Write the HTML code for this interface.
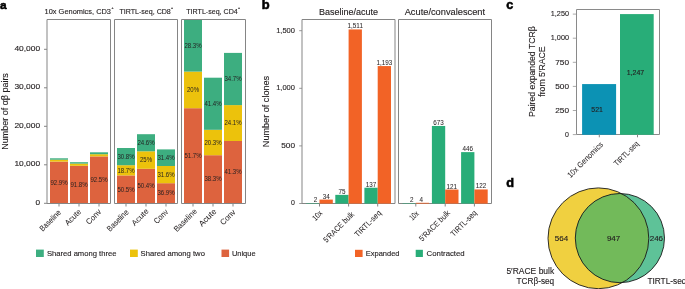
<!DOCTYPE html>
<html><head><meta charset="utf-8"><style>
html,body{margin:0;padding:0;background:#fff;}
svg{display:block;font-family:"Liberation Sans", sans-serif;will-change:transform;}
text{stroke:#231f20;stroke-width:0.13px;}
.rl{stroke-width:0.04px;}
.sm{stroke-width:0px;}
.lb{stroke:#000;stroke-width:0.55px;}
</style></head><body>
<svg width="685" height="289" viewBox="0 0 685 289">
<text x="0.1" y="9.2" font-size="11.8" textLength="6.6" lengthAdjust="spacingAndGlyphs" font-weight="bold" fill="#000" class="lb">a</text>
<text x="44.6" y="14.0" font-size="7.4" textLength="66.4" lengthAdjust="spacingAndGlyphs" fill="#231f20">10x Genomics, CD3</text>
<text x="111.5" y="9.4" font-size="3.5" fill="#231f20">+</text>
<text x="119.4" y="14.0" font-size="7.4" textLength="51.4" lengthAdjust="spacingAndGlyphs" fill="#231f20">TIRTL-seq, CD8</text>
<text x="171.0" y="9.4" font-size="3.5" fill="#231f20">+</text>
<text x="186.3" y="14.0" font-size="7.4" textLength="51.4" lengthAdjust="spacingAndGlyphs" fill="#231f20">TIRTL-seq, CD4</text>
<text x="238.1" y="9.4" font-size="3.5" fill="#231f20">+</text>
<line x1="44" y1="203.3" x2="47" y2="203.3" stroke="#858585" stroke-width="1"/>
<text x="40.1" y="204.7" font-size="7.5" text-anchor="end" textLength="4.6" lengthAdjust="spacingAndGlyphs" fill="#231f20">0</text>
<line x1="44" y1="164.8" x2="47" y2="164.8" stroke="#858585" stroke-width="1"/>
<text x="40.1" y="166.2" font-size="7.5" text-anchor="end" textLength="25.7" lengthAdjust="spacingAndGlyphs" fill="#231f20">10,000</text>
<line x1="44" y1="126.30000000000001" x2="47" y2="126.30000000000001" stroke="#858585" stroke-width="1"/>
<text x="40.1" y="127.7" font-size="7.5" text-anchor="end" textLength="25.7" lengthAdjust="spacingAndGlyphs" fill="#231f20">20,000</text>
<line x1="44" y1="87.80000000000001" x2="47" y2="87.80000000000001" stroke="#858585" stroke-width="1"/>
<text x="40.1" y="89.2" font-size="7.5" text-anchor="end" textLength="25.7" lengthAdjust="spacingAndGlyphs" fill="#231f20">30,000</text>
<line x1="44" y1="49.30000000000001" x2="47" y2="49.30000000000001" stroke="#858585" stroke-width="1"/>
<text x="40.1" y="50.7" font-size="7.5" text-anchor="end" textLength="25.7" lengthAdjust="spacingAndGlyphs" fill="#231f20">40,000</text>
<text transform="translate(7.6,111.4) rotate(-90)" font-size="9.2" text-anchor="middle" textLength="76.5" lengthAdjust="spacingAndGlyphs" fill="#231f20">Number of αβ pairs</text>
<rect x="50" y="161.6" width="18" height="41.400000000000006" fill="#dd633e"/>
<rect x="50" y="159.7" width="18" height="1.9000000000000057" fill="#ecc20c"/>
<rect x="50" y="158.3" width="18" height="1.3999999999999773" fill="#3dae80"/>
<rect x="70" y="165.8" width="18" height="37.19999999999999" fill="#dd633e"/>
<rect x="70" y="163.6" width="18" height="2.200000000000017" fill="#ecc20c"/>
<rect x="70" y="162.2" width="18" height="1.4000000000000057" fill="#3dae80"/>
<rect x="90" y="156.4" width="18" height="46.599999999999994" fill="#dd633e"/>
<rect x="90" y="154.2" width="18" height="2.200000000000017" fill="#ecc20c"/>
<rect x="90" y="152.3" width="18" height="1.8999999999999773" fill="#3dae80"/>
<rect x="117" y="175.4" width="18" height="27.599999999999994" fill="#dd633e"/>
<rect x="117" y="165.2" width="18" height="10.200000000000017" fill="#ecc20c"/>
<rect x="117" y="148.0" width="18" height="17.19999999999999" fill="#3dae80"/>
<rect x="137" y="168.8" width="18" height="34.19999999999999" fill="#dd633e"/>
<rect x="137" y="151.3" width="18" height="17.5" fill="#ecc20c"/>
<rect x="137" y="134.2" width="18" height="17.100000000000023" fill="#3dae80"/>
<rect x="157" y="183.2" width="18" height="19.80000000000001" fill="#dd633e"/>
<rect x="157" y="166.0" width="18" height="17.19999999999999" fill="#ecc20c"/>
<rect x="157" y="149.4" width="18" height="16.599999999999994" fill="#3dae80"/>
<rect x="184" y="108.2" width="18" height="94.8" fill="#dd633e"/>
<rect x="184" y="71.6" width="18" height="36.60000000000001" fill="#ecc20c"/>
<rect x="184" y="19.5" width="18" height="52.099999999999994" fill="#3dae80"/>
<rect x="204" y="155.2" width="18" height="47.80000000000001" fill="#dd633e"/>
<rect x="204" y="129.8" width="18" height="25.399999999999977" fill="#ecc20c"/>
<rect x="204" y="77.7" width="18" height="52.10000000000001" fill="#3dae80"/>
<rect x="224" y="141.0" width="18" height="62.0" fill="#dd633e"/>
<rect x="224" y="105.1" width="18" height="35.900000000000006" fill="#ecc20c"/>
<rect x="224" y="52.9" width="18" height="52.199999999999996" fill="#3dae80"/>
<path d="M47,203.5 V19.5 H110.5 V203.5 H47" fill="none" stroke="#858585" stroke-width="1"/>
<path d="M114.5,203.5 V19.5 H177.5 V203.5 H114.5" fill="none" stroke="#858585" stroke-width="1"/>
<path d="M181.5,203.5 V19.5 H245.5 V203.5 H181.5" fill="none" stroke="#858585" stroke-width="1"/>
<text x="59" y="184.7" font-size="6.5" text-anchor="middle" textLength="17.2" lengthAdjust="spacingAndGlyphs" fill="#231f20" class="sm">92.9%</text>
<text x="79" y="186.5" font-size="6.5" text-anchor="middle" textLength="17.2" lengthAdjust="spacingAndGlyphs" fill="#231f20" class="sm">91.8%</text>
<text x="99" y="181.9" font-size="6.5" text-anchor="middle" textLength="17.2" lengthAdjust="spacingAndGlyphs" fill="#231f20" class="sm">92.5%</text>
<text x="126" y="158.9" font-size="6.5" text-anchor="middle" textLength="17.2" lengthAdjust="spacingAndGlyphs" fill="#231f20" class="sm">30.8%</text>
<text x="126" y="172.6" font-size="6.5" text-anchor="middle" textLength="17.2" lengthAdjust="spacingAndGlyphs" fill="#231f20" class="sm">18.7%</text>
<text x="126" y="191.5" font-size="6.5" text-anchor="middle" textLength="17.2" lengthAdjust="spacingAndGlyphs" fill="#231f20" class="sm">50.5%</text>
<text x="146" y="145.0" font-size="6.5" text-anchor="middle" textLength="17.2" lengthAdjust="spacingAndGlyphs" fill="#231f20" class="sm">24.6%</text>
<text x="146" y="162.3" font-size="6.5" text-anchor="middle" textLength="12" lengthAdjust="spacingAndGlyphs" fill="#231f20" class="sm">25%</text>
<text x="146" y="188.2" font-size="6.5" text-anchor="middle" textLength="17.2" lengthAdjust="spacingAndGlyphs" fill="#231f20" class="sm">50.4%</text>
<text x="166" y="160.0" font-size="6.5" text-anchor="middle" textLength="17.2" lengthAdjust="spacingAndGlyphs" fill="#231f20" class="sm">31.4%</text>
<text x="166" y="176.9" font-size="6.5" text-anchor="middle" textLength="17.2" lengthAdjust="spacingAndGlyphs" fill="#231f20" class="sm">31.6%</text>
<text x="166" y="195.4" font-size="6.5" text-anchor="middle" textLength="17.2" lengthAdjust="spacingAndGlyphs" fill="#231f20" class="sm">36.9%</text>
<text x="193" y="47.9" font-size="6.5" text-anchor="middle" textLength="17.2" lengthAdjust="spacingAndGlyphs" fill="#231f20" class="sm">28.3%</text>
<text x="193" y="92.2" font-size="6.5" text-anchor="middle" textLength="12" lengthAdjust="spacingAndGlyphs" fill="#231f20" class="sm">20%</text>
<text x="193" y="157.7" font-size="6.5" text-anchor="middle" textLength="17.2" lengthAdjust="spacingAndGlyphs" fill="#231f20" class="sm">51.7%</text>
<text x="213" y="106.0" font-size="6.5" text-anchor="middle" textLength="17.2" lengthAdjust="spacingAndGlyphs" fill="#231f20" class="sm">41.4%</text>
<text x="213" y="144.8" font-size="6.5" text-anchor="middle" textLength="17.2" lengthAdjust="spacingAndGlyphs" fill="#231f20" class="sm">20.3%</text>
<text x="213" y="181.3" font-size="6.5" text-anchor="middle" textLength="17.2" lengthAdjust="spacingAndGlyphs" fill="#231f20" class="sm">38.3%</text>
<text x="233" y="81.3" font-size="6.5" text-anchor="middle" textLength="17.2" lengthAdjust="spacingAndGlyphs" fill="#231f20" class="sm">34.7%</text>
<text x="233" y="125.3" font-size="6.5" text-anchor="middle" textLength="17.2" lengthAdjust="spacingAndGlyphs" fill="#231f20" class="sm">24.1%</text>
<text x="233" y="174.2" font-size="6.5" text-anchor="middle" textLength="17.2" lengthAdjust="spacingAndGlyphs" fill="#231f20" class="sm">41.3%</text>
<line x1="59" y1="203.5" x2="59" y2="206.5" stroke="#858585" stroke-width="1"/>
<line x1="79" y1="203.5" x2="79" y2="206.5" stroke="#858585" stroke-width="1"/>
<line x1="99" y1="203.5" x2="99" y2="206.5" stroke="#858585" stroke-width="1"/>
<line x1="126" y1="203.5" x2="126" y2="206.5" stroke="#858585" stroke-width="1"/>
<line x1="146" y1="203.5" x2="146" y2="206.5" stroke="#858585" stroke-width="1"/>
<line x1="166" y1="203.5" x2="166" y2="206.5" stroke="#858585" stroke-width="1"/>
<line x1="193" y1="203.5" x2="193" y2="206.5" stroke="#858585" stroke-width="1"/>
<line x1="213" y1="203.5" x2="213" y2="206.5" stroke="#858585" stroke-width="1"/>
<line x1="233" y1="203.5" x2="233" y2="206.5" stroke="#858585" stroke-width="1"/>
<text id="r_a0" class="rl" transform="translate(61.5,213.14) rotate(-45)" font-size="8.0" text-anchor="end" textLength="26.39" lengthAdjust="spacingAndGlyphs" fill="#231f20">Baseline</text>
<text id="r_a1" class="rl" transform="translate(81.66,212.34) rotate(-45)" font-size="8.0" text-anchor="end" textLength="19.47" lengthAdjust="spacingAndGlyphs" fill="#231f20">Acute</text>
<text id="r_a2" class="rl" transform="translate(101.82,212.34) rotate(-45)" font-size="8.0" text-anchor="end" textLength="18.09" lengthAdjust="spacingAndGlyphs" fill="#231f20">Conv</text>
<text id="r_a3" class="rl" transform="translate(129.14,212.82) rotate(-45)" font-size="8.0" text-anchor="end" textLength="26.96" lengthAdjust="spacingAndGlyphs" fill="#231f20">Baseline</text>
<text id="r_a4" class="rl" transform="translate(149.14,211.7) rotate(-45)" font-size="8.0" text-anchor="end" textLength="20.49" lengthAdjust="spacingAndGlyphs" fill="#231f20">Acute</text>
<text id="r_a5" class="rl" transform="translate(168.66,212.5) rotate(-45)" font-size="8.0" text-anchor="end" textLength="16.51" lengthAdjust="spacingAndGlyphs" fill="#231f20">Conv</text>
<text id="r_a6" class="rl" transform="translate(197.4,211.86) rotate(-45)" font-size="8.0" text-anchor="end" textLength="28.99" lengthAdjust="spacingAndGlyphs" fill="#231f20">Baseline</text>
<text id="r_a7" class="rl" transform="translate(216.98,211.86) rotate(-45)" font-size="8.0" text-anchor="end" textLength="21.28" lengthAdjust="spacingAndGlyphs" fill="#231f20">Acute</text>
<text id="r_a8" class="rl" transform="translate(236.12,212.66) rotate(-45)" font-size="8.0" text-anchor="end" textLength="18.32" lengthAdjust="spacingAndGlyphs" fill="#231f20">Conv</text>
<rect x="36" y="249.6" width="7.8" height="7.4" fill="#3dae80"/>
<text x="46.9" y="256.2" font-size="7.7" textLength="69.6" lengthAdjust="spacingAndGlyphs" fill="#231f20">Shared among three</text>
<rect x="130" y="249.6" width="7.8" height="7.4" fill="#ecc20c"/>
<text x="140.6" y="256.2" font-size="7.7" textLength="64.3" lengthAdjust="spacingAndGlyphs" fill="#231f20">Shared among two</text>
<rect x="221.5" y="249.6" width="7.6" height="7.4" fill="#dd633e"/>
<text x="231.9" y="256.2" font-size="7.7" textLength="23.7" lengthAdjust="spacingAndGlyphs" fill="#231f20">Unique</text>
<text x="261.8" y="9.0" font-size="12.2" textLength="7.9" lengthAdjust="spacingAndGlyphs" font-weight="bold" fill="#000" class="lb">b</text>
<text x="319" y="14.5" font-size="9.0" textLength="59.1" lengthAdjust="spacingAndGlyphs" fill="#231f20">Baseline/acute</text>
<text x="404.7" y="14.5" font-size="9.0" textLength="80.4" lengthAdjust="spacingAndGlyphs" fill="#231f20">Acute/convalescent</text>
<line x1="299.2" y1="203.5" x2="302" y2="203.5" stroke="#999" stroke-width="1"/>
<text x="295.0" y="205.4" font-size="7.6" text-anchor="end" textLength="3.9" lengthAdjust="spacingAndGlyphs" fill="#231f20">0</text>
<line x1="299.2" y1="145.9" x2="302" y2="145.9" stroke="#999" stroke-width="1"/>
<text x="295.0" y="147.8" font-size="7.6" text-anchor="end" textLength="13.8" lengthAdjust="spacingAndGlyphs" fill="#231f20">500</text>
<line x1="299.2" y1="88.3" x2="302" y2="88.3" stroke="#999" stroke-width="1"/>
<text x="295.0" y="90.2" font-size="7.6" text-anchor="end" textLength="18.8" lengthAdjust="spacingAndGlyphs" fill="#231f20">1,000</text>
<line x1="299.2" y1="30.700000000000017" x2="302" y2="30.700000000000017" stroke="#999" stroke-width="1"/>
<text x="295.0" y="32.6" font-size="7.6" text-anchor="end" textLength="18.8" lengthAdjust="spacingAndGlyphs" fill="#231f20">1,500</text>
<text transform="translate(269.4,111.5) rotate(-90)" font-size="9.2" text-anchor="middle" textLength="71.3" lengthAdjust="spacingAndGlyphs" fill="#231f20">Number of clones</text>
<path d="M302,203.5 V19.5 H395 V203.5 H302" fill="none" stroke="#858585" stroke-width="1"/>
<path d="M398.5,203.5 V19.5 H491.5 V203.5 H398.5" fill="none" stroke="#858585" stroke-width="1"/>
<rect x="306.2" y="203.15" width="13.3" height="0.45" fill="#28ad78"/>
<rect x="319.5" y="199.58" width="13.3" height="4.02" fill="#f26326"/>
<text x="315.55" y="202.15" font-size="6.3" text-anchor="middle" fill="#231f20" class="rl">2</text>
<text x="326.15" y="198.58" font-size="6.3" text-anchor="middle" fill="#231f20" class="rl">34</text>
<rect x="335.3" y="194.86" width="13.3" height="8.74" fill="#28ad78"/>
<rect x="348.6" y="29.43" width="13.3" height="174.17" fill="#f26326"/>
<text x="341.95000000000005" y="193.86" font-size="6.3" text-anchor="middle" fill="#231f20" class="rl">75</text>
<text x="355.25" y="28.43" font-size="6.3" text-anchor="middle" fill="#231f20" class="rl">1,511</text>
<rect x="364.4" y="187.72" width="13.3" height="15.88" fill="#28ad78"/>
<rect x="377.7" y="66.07" width="13.3" height="137.53" fill="#f26326"/>
<text x="371.05" y="186.72" font-size="6.3" text-anchor="middle" fill="#231f20" class="rl">137</text>
<text x="384.34999999999997" y="65.07" font-size="6.3" text-anchor="middle" fill="#231f20" class="rl">1,193</text>
<rect x="402.5" y="203.15" width="13.3" height="0.45" fill="#28ad78"/>
<rect x="415.8" y="202.8" width="13.3" height="0.8" fill="#f26326"/>
<text x="411.85" y="202.15" font-size="6.3" text-anchor="middle" fill="#231f20" class="rl">2</text>
<text x="421.25" y="201.8" font-size="6.3" text-anchor="middle" fill="#231f20" class="rl">4</text>
<rect x="431.9" y="125.97" width="13.3" height="77.63" fill="#28ad78"/>
<rect x="445.2" y="189.56" width="13.3" height="14.04" fill="#f26326"/>
<text x="438.55" y="124.97" font-size="6.3" text-anchor="middle" fill="#231f20" class="rl">673</text>
<text x="451.84999999999997" y="188.56" font-size="6.3" text-anchor="middle" fill="#231f20" class="rl">121</text>
<rect x="461.09999999999997" y="152.12" width="13.3" height="51.48" fill="#28ad78"/>
<rect x="474.4" y="189.45" width="13.3" height="14.15" fill="#f26326"/>
<text x="467.75" y="151.12" font-size="6.3" text-anchor="middle" fill="#231f20" class="rl">446</text>
<text x="481.04999999999995" y="188.45" font-size="6.3" text-anchor="middle" fill="#231f20" class="rl">122</text>
<line x1="319.5" y1="203.5" x2="319.5" y2="206.5" stroke="#858585" stroke-width="1"/>
<line x1="348.6" y1="203.5" x2="348.6" y2="206.5" stroke="#858585" stroke-width="1"/>
<line x1="377.7" y1="203.5" x2="377.7" y2="206.5" stroke="#858585" stroke-width="1"/>
<line x1="415.8" y1="203.5" x2="415.8" y2="206.5" stroke="#858585" stroke-width="1"/>
<line x1="445.2" y1="203.5" x2="445.2" y2="206.5" stroke="#858585" stroke-width="1"/>
<line x1="474.4" y1="203.5" x2="474.4" y2="206.5" stroke="#858585" stroke-width="1"/>
<text id="r_b0" class="rl" transform="translate(322.86,213.78) rotate(-45)" font-size="8.0" text-anchor="end" textLength="10.44" lengthAdjust="spacingAndGlyphs" fill="#231f20">10x</text>
<text id="r_b1" class="rl" transform="translate(354.74,214.9) rotate(-45)" font-size="8.0" text-anchor="end" textLength="39.77" lengthAdjust="spacingAndGlyphs" fill="#231f20">5′RACE bulk</text>
<text id="r_b2" class="rl" transform="translate(381.76,213.46) rotate(-45)" font-size="8.0" text-anchor="end" textLength="34.12" lengthAdjust="spacingAndGlyphs" fill="#231f20">TIRTL-seq</text>
<text id="r_b3" class="rl" transform="translate(419.26,214.1) rotate(-45)" font-size="8.0" text-anchor="end" textLength="9.54" lengthAdjust="spacingAndGlyphs" fill="#231f20">10x</text>
<text id="r_b4" class="rl" transform="translate(450.58,213.46) rotate(-45)" font-size="8.0" text-anchor="end" textLength="40.0" lengthAdjust="spacingAndGlyphs" fill="#231f20">5′RACE bulk</text>
<text id="r_b5" class="rl" transform="translate(477.38,213.46) rotate(-45)" font-size="8.0" text-anchor="end" textLength="33.33" lengthAdjust="spacingAndGlyphs" fill="#231f20">TIRTL-seq</text>
<rect x="355" y="249.8" width="7.6" height="7.2" fill="#f26326"/>
<text x="365.8" y="256.2" font-size="7.7" textLength="33.7" lengthAdjust="spacingAndGlyphs" fill="#231f20">Expanded</text>
<rect x="415.7" y="249.8" width="7.2" height="7.2" fill="#28ad78"/>
<text x="426.6" y="256.2" font-size="7.7" textLength="38.1" lengthAdjust="spacingAndGlyphs" fill="#231f20">Contracted</text>
<text x="506.3" y="9.2" font-size="12.0" textLength="7.0" lengthAdjust="spacingAndGlyphs" font-weight="bold" fill="#000" class="lb">c</text>
<line x1="572.8" y1="134.60000000000002" x2="576.5" y2="134.60000000000002" stroke="#aaa" stroke-width="1"/>
<text x="569.0" y="136.8" font-size="7.6" text-anchor="end" textLength="3.9" lengthAdjust="spacingAndGlyphs" fill="#231f20">0</text>
<line x1="572.8" y1="110.50000000000001" x2="576.5" y2="110.50000000000001" stroke="#aaa" stroke-width="1"/>
<text x="569.0" y="112.7" font-size="7.6" text-anchor="end" textLength="13.8" lengthAdjust="spacingAndGlyphs" fill="#231f20">250</text>
<line x1="572.8" y1="86.4" x2="576.5" y2="86.4" stroke="#aaa" stroke-width="1"/>
<text x="569.0" y="88.6" font-size="7.6" text-anchor="end" textLength="13.8" lengthAdjust="spacingAndGlyphs" fill="#231f20">500</text>
<line x1="572.8" y1="62.30000000000001" x2="576.5" y2="62.30000000000001" stroke="#aaa" stroke-width="1"/>
<text x="569.0" y="64.5" font-size="7.6" text-anchor="end" textLength="13.8" lengthAdjust="spacingAndGlyphs" fill="#231f20">750</text>
<line x1="572.8" y1="38.2" x2="576.5" y2="38.2" stroke="#aaa" stroke-width="1"/>
<text x="569.0" y="40.4" font-size="7.6" text-anchor="end" textLength="18.2" lengthAdjust="spacingAndGlyphs" fill="#231f20">1,000</text>
<line x1="572.8" y1="14.100000000000012" x2="576.5" y2="14.100000000000012" stroke="#aaa" stroke-width="1"/>
<text x="569.0" y="16.3" font-size="7.6" text-anchor="end" textLength="18.2" lengthAdjust="spacingAndGlyphs" fill="#231f20">1,250</text>
<text transform="translate(534.9,71.6) rotate(-90)" font-size="8.9" text-anchor="middle" textLength="90.7" lengthAdjust="spacingAndGlyphs" fill="#231f20">Paired expanded TCRβ</text>
<text transform="translate(545.3,71.6) rotate(-90)" font-size="8.9" text-anchor="middle" textLength="50.3" lengthAdjust="spacingAndGlyphs" fill="#231f20">from 5′RACE</text>
<path d="M576.5,134.5 V9.5 H659.5 V134.5 H576.5" fill="none" stroke="#8a8a8a" stroke-width="1"/>
<rect x="582.1" y="84.08" width="34" height="50.72" fill="#0c92b4"/>
<rect x="620.0" y="14.09" width="33.7" height="120.71" fill="#28ad78"/>
<text x="597.1" y="112.3" font-size="7.8" text-anchor="middle" textLength="11.6" lengthAdjust="spacingAndGlyphs" fill="#231f20">521</text>
<text x="635.5" y="74.6" font-size="7.8" text-anchor="middle" textLength="17.6" lengthAdjust="spacingAndGlyphs" fill="#231f20">1,247</text>
<line x1="599.3" y1="134.3" x2="599.3" y2="137.3" stroke="#858585" stroke-width="1"/>
<line x1="637.5" y1="134.3" x2="637.5" y2="137.3" stroke="#858585" stroke-width="1"/>
<text id="r_c0" class="rl" transform="translate(603.6,145.12) rotate(-45)" font-size="8.0" text-anchor="end" textLength="46.92" lengthAdjust="spacingAndGlyphs" fill="#231f20">10x Genomics</text>
<text id="r_c1" class="rl" transform="translate(639.36,144.32) rotate(-45)" font-size="8.0" text-anchor="end" textLength="31.5" lengthAdjust="spacingAndGlyphs" fill="#231f20">TIRTL-seq</text>
<text x="506.3" y="186.6" font-size="12.0" textLength="7.8" lengthAdjust="spacingAndGlyphs" font-weight="bold" fill="#000" class="lb">d</text>
<defs><clipPath id="cy"><circle cx="598.4" cy="238.3" r="50.4"/></clipPath></defs>
<circle cx="598.4" cy="238.3" r="50.4" fill="#f0d040"/>
<circle cx="619.9" cy="238.1" r="44.6" fill="#5ec298"/>
<circle cx="619.9" cy="238.1" r="44.6" fill="#72ba5a" clip-path="url(#cy)"/>
<circle cx="598.4" cy="238.3" r="50.4" fill="none" stroke="#1a1a1a" stroke-width="0.9"/>
<circle cx="619.9" cy="238.1" r="44.6" fill="none" stroke="#1a1a1a" stroke-width="0.9"/>
<text x="561.5" y="240.6" font-size="7.8" text-anchor="middle" textLength="13.4" lengthAdjust="spacingAndGlyphs" fill="#231f20">564</text>
<text x="613.6" y="240.6" font-size="7.8" text-anchor="middle" textLength="13.4" lengthAdjust="spacingAndGlyphs" fill="#231f20">947</text>
<text x="656.4" y="240.6" font-size="7.8" text-anchor="middle" textLength="13.4" lengthAdjust="spacingAndGlyphs" fill="#231f20">246</text>
<text x="554.2" y="274.0" font-size="8.3" text-anchor="end" textLength="47.8" lengthAdjust="spacingAndGlyphs" fill="#231f20">5′RACE bulk</text>
<text x="554.2" y="284.0" font-size="8.3" text-anchor="end" textLength="37.6" lengthAdjust="spacingAndGlyphs" fill="#231f20">TCRβ-seq</text>
<text x="647.4" y="283.8" font-size="8.3" fill="#231f20">TIRTL-seq</text>
</svg>
</body></html>
